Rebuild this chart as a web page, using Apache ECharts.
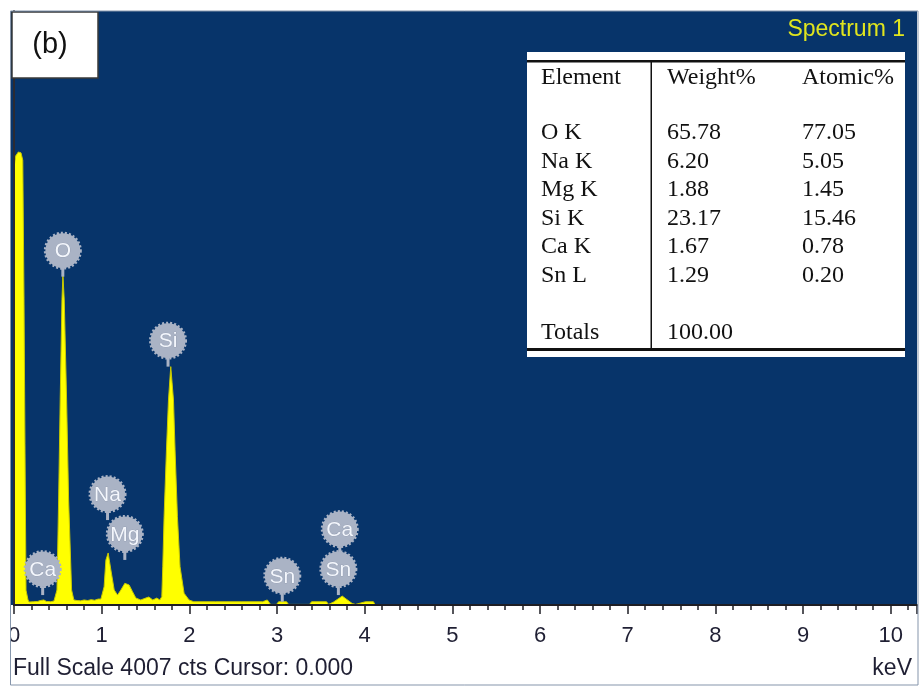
<!DOCTYPE html>
<html>
<head>
<meta charset="utf-8">
<script src="https://cdn.jsdelivr.net/npm/echarts@6/dist/echarts.min.js"></script>
<style>
  html, body { margin: 0; padding: 0; background: #ffffff; }
  #chart { width: 919px; height: 686px; }
</style>
</head>
<body>
<div id="chart"></div>
<script>
// EDS spectrum: energy (keV) against counts
const energyKeV = [
  0.000, 0.020, 0.050, 0.080, 0.100, 0.114, 0.125, 0.137, 0.160, 0.171,
  0.220, 0.270, 0.300, 0.320, 0.340, 0.370, 0.420, 0.456, 0.490, 0.509,
  0.527, 0.547, 0.558, 0.573, 0.600, 0.623, 0.657, 0.683, 0.720, 0.760,
  0.800, 0.840, 0.880, 0.920, 0.960, 0.991, 1.028, 1.048, 1.074, 1.105,
  1.143, 1.181, 1.219, 1.264, 1.313, 1.352, 1.390, 1.446, 1.503, 1.538,
  1.583, 1.629, 1.663, 1.686, 1.697, 1.712, 1.739, 1.762, 1.788, 1.819,
  1.837, 1.864, 1.894, 1.940, 1.997, 2.050, 2.300, 2.600, 2.836, 2.889,
  2.927, 2.995, 3.018, 3.109, 3.132, 3.371, 3.394, 3.565, 3.588, 3.645,
  3.744, 3.858, 3.895, 4.009, 4.100, 4.120, 5.000, 7.000, 10.300
];
const counts = [
  2950, 3030, 3056, 3050, 3000, 2070, 1090,  100,   34,   20,
    22,   24,   30,   37,   34,   24,   22,   27,  101,  708,
  1383, 2058, 2226, 2058, 1383,  708,  101,   34,   30,   28,
    34,   30,   36,   32,   40,   40,  123,  303,  351,  236,
   101,   67,  101,  146,  135,   90,   47,   34,   47,   54,
    34,   47,   34,   56,  258,  596, 1046, 1383, 1608, 1383,
  1046,  596,  258,   79,   34,   22,   22,   22,   22,   34,
     4,    4,   22,   22,    4,    4,   22,   22,    4,   20,
    60,   10,    4,   22,   22,    0,    0,    0,    0
];

// Element markers: energy and the count level where each marker stem ends
const peakNames = ['Ca', 'O', 'Na', 'Mg', 'Si', 'Sn', 'Sn', 'Ca'];
const peakEnergy = [0.327, 0.557, 1.067, 1.264, 1.757, 3.060, 3.700, 3.716];
const stemBaseCounts = [67, 2215, 573, 304, 1608, 22, 67, 337];

// Quantification table
const tableHeader = ['Element', 'Weight%', 'Atomic%'];
const tableElements = ['O K', 'Na K', 'Mg K', 'Si K', 'Ca K', 'Sn L'];
const weightPct = ['65.78', '6.20', '1.88', '23.17', '1.67', '1.29'];
const atomicPct = ['77.05', '5.05', '1.45', '15.46', '0.78', '0.20'];
const totalsLabel = 'Totals';
const totalWeight = '100.00';

const fullScaleCounts = 4007;
const energyMax = 10.30;

const spectrumData = energyKeV.map((e, i) => [e, counts[i]]);
const markerData = peakEnergy.map((e, i) => [e, stemBaseCounts[i]]);

const BADGE = '#aab3c5';
const serifFont = '24px "Liberation Serif", "DejaVu Serif", serif';
const sansFont = '"Liberation Sans", Arial, sans-serif';

// Table graphics
const tableEls = [
  { type: 'rect', shape: { x: 527, y: 52, width: 378, height: 305 }, style: { fill: '#ffffff' } },
  { type: 'rect', shape: { x: 527, y: 60, width: 378, height: 2.5 }, style: { fill: '#111111' } },
  { type: 'rect', shape: { x: 527, y: 348, width: 378, height: 3 }, style: { fill: '#111111' } },
  { type: 'rect', shape: { x: 650.5, y: 62, width: 1.5, height: 286 }, style: { fill: '#111111' } }
];
const colX = [541, 667, 802];
tableHeader.forEach((t, c) => {
  tableEls.push({ type: 'text', style: { text: t, x: colX[c], y: 78, font: serifFont, fill: '#111111', verticalAlign: 'middle' } });
});
tableElements.forEach((t, r) => {
  const y = 133 + r * 28.5;
  [t, weightPct[r], atomicPct[r]].forEach((v, c) => {
    tableEls.push({ type: 'text', style: { text: v, x: colX[c], y: y, font: serifFont, fill: '#111111', verticalAlign: 'middle' } });
  });
});
tableEls.push({ type: 'text', style: { text: totalsLabel, x: colX[0], y: 333, font: serifFont, fill: '#111111', verticalAlign: 'middle' } });
tableEls.push({ type: 'text', style: { text: totalWeight, x: colX[1], y: 333, font: serifFont, fill: '#111111', verticalAlign: 'middle' } });

const chart = echarts.init(document.getElementById('chart'), null, { renderer: 'canvas' });

chart.setOption({
  animation: false,
  backgroundColor: '#ffffff',
  grid: { left: 14, right: 2, top: 11, bottom: 81, containLabel: false },
  xAxis: {
    type: 'value',
    min: 0,
    max: energyMax,
    interval: 1,
    z: 10,
    axisLine: { show: true, onZero: false, lineStyle: { color: '#1e1e24', width: 2 } },
    axisTick: { show: true, inside: false, length: 9, lineStyle: { color: '#1e1e24', width: 1.5 } },
    minorTick: { show: true, splitNumber: 5, length: 5, lineStyle: { color: '#1e1e24', width: 1.5 } },
    splitLine: { show: false },
    axisLabel: {
      margin: 20,
      fontSize: 22,
      fontFamily: sansFont,
      color: '#1f1f33',
      showMaxLabel: false,
      formatter: v => (Math.abs(v - Math.round(v)) < 1e-6 ? String(Math.round(v)) : '')
    }
  },
  yAxis: {
    type: 'value',
    min: 0,
    max: fullScaleCounts,
    z: 10,
    axisLine: { show: true, lineStyle: { color: '#2b2b33', width: 2 } },
    axisTick: { show: false },
    axisLabel: { show: false },
    splitLine: { show: false }
  },
  graphic: [
    // plot background
    { type: 'rect', z: -10, shape: { x: 11, y: 11, width: 906, height: 594 }, style: { fill: '#07346a' } },
    // clip strip and outer frame
    { type: 'rect', z: 50, shape: { x: 0, y: 606, width: 10.5, height: 80 }, style: { fill: '#ffffff' } },
    { type: 'rect', z: 51, shape: { x: 10.5, y: 11, width: 907.5, height: 674 }, style: { fill: 'none', stroke: '#8595ab', lineWidth: 1 } },
    // panel label
    { type: 'rect', z: 20, shape: { x: 12, y: 12, width: 86, height: 66 }, style: { fill: '#ffffff', stroke: '#3a3a3a', lineWidth: 1.5 } },
    { type: 'text', z: 21, style: { text: '(b)', x: 50, y: 45, font: '29px ' + sansFont, fill: '#111111', align: 'center', verticalAlign: 'middle' } },
    // spectrum title
    { type: 'text', z: 20, style: { text: 'Spectrum 1', x: 905, y: 30, font: '23px ' + sansFont, fill: '#e0e51e', align: 'right', verticalAlign: 'middle' } },
    // table
    { type: 'group', z: 20, children: tableEls },
    // footer
    { type: 'text', z: 20, style: { text: 'Full Scale ' + fullScaleCounts + ' cts Cursor: 0.000', x: 13, y: 669, font: '23px ' + sansFont, fill: '#1f1f33', verticalAlign: 'middle' } },
    { type: 'text', z: 20, style: { text: 'keV', x: 912, y: 669, font: '23px ' + sansFont, fill: '#1f1f33', align: 'right', verticalAlign: 'middle' } }
  ],
  series: [
    {
      type: 'line',
      data: spectrumData,
      showSymbol: false,
      symbol: 'none',
      smooth: false,
      lineStyle: { color: '#c9c900', width: 1 },
      areaStyle: { color: '#ffff00', opacity: 1 },
      z: 3
    },
    {
      type: 'custom',
      data: markerData,
      z: 5,
      renderItem: function (params, api) {
        const p = api.coord([api.value(0), api.value(1)]);
        const cx = p[0];
        const cy = p[1] - 26;
        return {
          type: 'group',
          children: [
            { type: 'line', shape: { x1: cx, y1: p[1] - 9, x2: cx, y2: p[1] }, style: { stroke: BADGE, lineWidth: 3 } },
            { type: 'circle', shape: { cx: cx, cy: cy, r: 17.5 }, style: { fill: BADGE, stroke: BADGE, lineWidth: 3, lineDash: [2, 2] } },
            { type: 'text', style: { text: peakNames[params.dataIndex], x: cx, y: cy + 1, align: 'center', verticalAlign: 'middle', font: '21px ' + sansFont, fill: '#f3f6fc', stroke: '#8d97ab', lineWidth: 0.6 } }
          ]
        };
      }
    }
  ]
});
</script>
</body>
</html>
